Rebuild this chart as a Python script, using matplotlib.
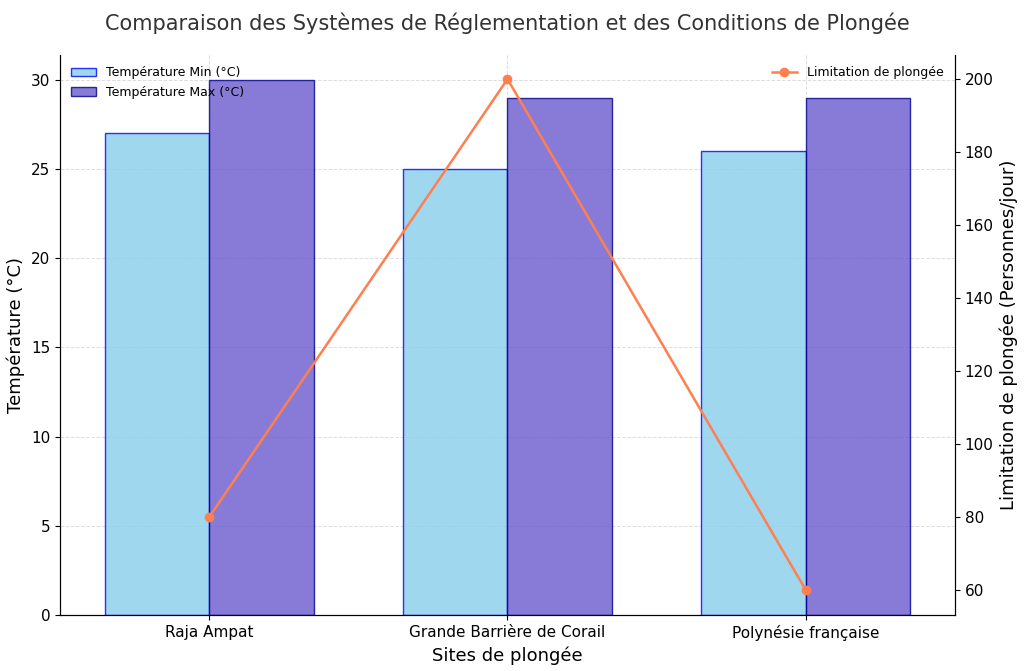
import matplotlib.pyplot as plt
import numpy as np

sites = ["Raja Ampat", "Grande Barrière de Corail", "Polynésie française"]
temp_min = [27, 25, 26]
temp_max = [30, 29, 29]
limitation = [80, 200, 60]

fig, ax = plt.subplots(figsize=(10.24, 6.71), dpi=100)
fig.subplots_adjust(left=0.0586, right=0.9326, top=0.918, bottom=0.0835)

x = np.arange(len(sites))
w = 0.35
ax.bar(x - w / 2, temp_min, w, color="skyblue", alpha=0.8, edgecolor="blue",
       linewidth=1, label="Température Min (°C)")
ax.bar(x + w / 2, temp_max, w, color="slateblue", alpha=0.8, edgecolor="darkblue",
       linewidth=1, label="Température Max (°C)")
ax.set_xticks(x)
ax.set_xticklabels(sites, fontsize=11)
ax.set_ylim(0, 31.4)
ax.set_xlim(-0.5, 2.5)
ax.set_xlabel("Sites de plongée", fontsize=13)
ax.set_ylabel("Température (°C)", fontsize=13)
ax.grid(True, linestyle="--", color="#dddddd", linewidth=0.7)
ax.set_axisbelow(True)
ax.spines["top"].set_visible(False)
ax.legend(loc="upper left", fontsize=9, frameon=False)

ax2 = ax.twinx()
ax2.plot(x, limitation, color="coral", marker="o", markersize=6, linewidth=1.8,
         label="Limitation de plongée")
ax2.set_ylim(53.2, 206.6)
ax2.set_ylabel("Limitation de plongée (Personnes/jour)", fontsize=13)
ax2.spines["top"].set_visible(False)
ax2.legend(loc="upper right", fontsize=9, frameon=False)

for a in (ax, ax2):
    a.tick_params(labelsize=11)

ax.set_title("Comparaison des Systèmes de Réglementation et des Conditions de Plongée",
             fontsize=15, color="#333333", pad=18)

fig.savefig("out.png")
